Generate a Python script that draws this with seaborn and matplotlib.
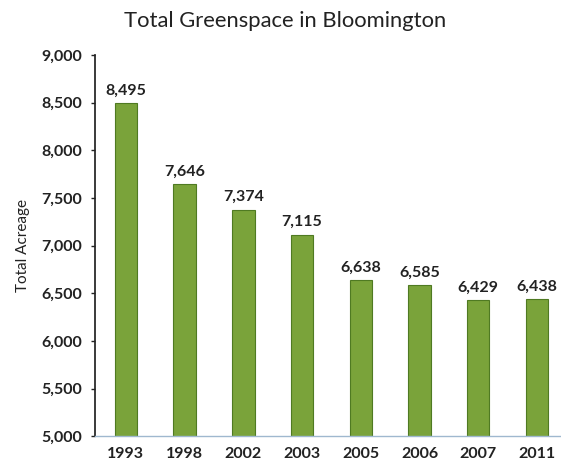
import matplotlib
matplotlib.use("Agg")
import matplotlib.pyplot as plt
import seaborn as sns
import pandas as pd

years = ["1993", "1998", "2002", "2003", "2005", "2006", "2007", "2011"]
acreage = [8495, 7646, 7374, 7115, 6638, 6585, 6429, 6438]
yticks = [5000, 5500, 6000, 6500, 7000, 7500, 8000, 8500, 9000]

sns.set_theme(style="white")
plt.rcParams['font.family'] = ['Lato', 'DejaVu Sans']

df = pd.DataFrame({"Year": years, "Acreage": acreage})

fig = plt.figure(figsize=(5.61, 4.71), dpi=100)
ax = fig.add_axes([0.169, 0.074, 0.83, 0.809])
sns.barplot(data=df, x="Year", y="Acreage", color="#7aa33a", width=0.38,
            edgecolor="#4f7a22", linewidth=0.8, ax=ax, saturation=1)
ax.set_ylim(5000, 9000)
ax.set_xlim(-0.53, 7.4)
ax.set_yticks(yticks)
ax.set_yticklabels([f"{v:,}" for v in yticks], fontsize=11.5, fontweight="bold", color="#222222")
ax.tick_params(axis="x", labelsize=11.5, pad=8, length=0, labelcolor="#222222")
for lbl in ax.get_xticklabels():
    lbl.set_fontweight("bold")
ax.tick_params(axis="y", length=3, width=1, color="#222222", left=True, pad=6)
ax.set_xlabel("")
ax.set_ylabel("Total Acreage", fontsize=11, color="#222222", labelpad=8)
sns.despine(ax=ax, top=True, right=True)
ax.spines["left"].set_color("#222222")
ax.spines["bottom"].set_color("#9fb8cf")
ax.spines["bottom"].set_linewidth(1)
for i, v in enumerate(acreage):
    ax.text(i, v + 60, f"{v:,}", ha="center", va="bottom", fontsize=11.5,
            fontweight="bold", color="#222222")
fig.text(0.509, 0.955, "Total Greenspace in Bloomington", ha="center", va="center",
         fontsize=15.8, color="#222222")
fig.savefig("out.png", dpi=100)
